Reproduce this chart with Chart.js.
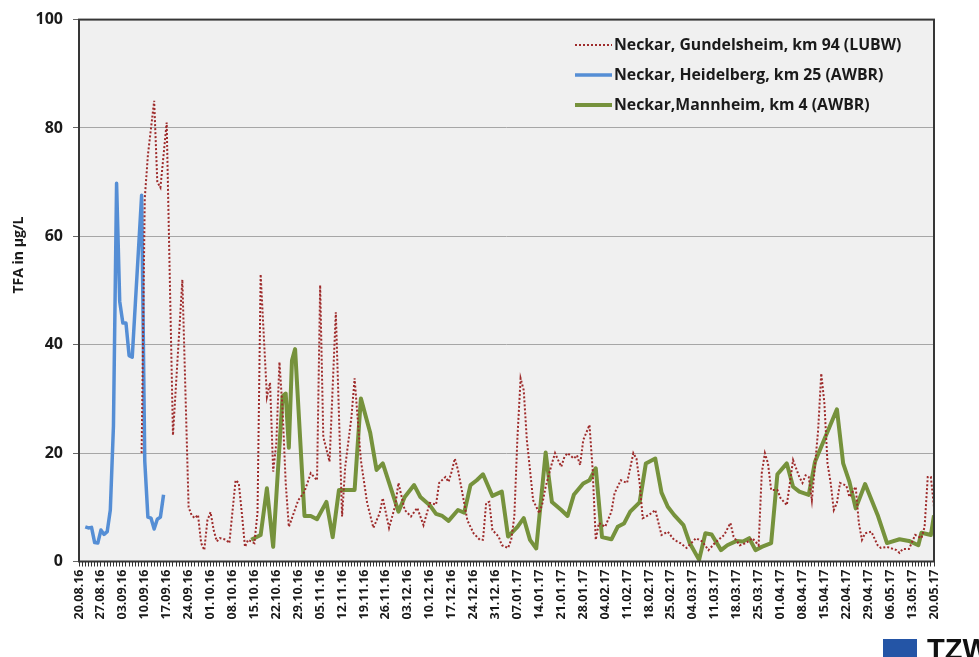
<!DOCTYPE html>
<html>
<head>
<meta charset="utf-8">
<script src="https://cdn.jsdelivr.net/npm/chart.js@4.4.1/dist/chart.umd.min.js"></script>
<style>
  html, body { margin: 0; padding: 0; background: #fff; }
</style>
</head>
<body>
<canvas id="tfaChart" width="979" height="657"></canvas>
<script>
// x = days since 20.08.16, one tick label per week
const weekLabels = ['20.08.16', '27.08.16', '03.09.16', '10.09.16', '17.09.16', '24.09.16', '01.10.16', '08.10.16',
    '15.10.16', '22.10.16', '29.10.16', '05.11.16', '12.11.16', '19.11.16', '26.11.16', '03.12.16', '10.12.16',
    '17.12.16', '24.12.16', '31.12.16', '07.01.17', '14.01.17', '21.01.17', '28.01.17', '04.02.17', '11.02.17',
    '18.02.17', '25.02.17', '04.03.17', '11.03.17', '18.03.17', '25.03.17', '01.04.17', '08.04.17', '15.04.17',
    '22.04.17', '29.04.17', '06.05.17', '13.05.17', '20.05.17'];
const yTicks = [0, 20, 40, 60, 80, 100];

const seriesNames = ['Neckar, Gundelsheim, km 94 (LUBW)', 'Neckar, Heidelberg, km 25 (AWBR)', 'Neckar,Mannheim, km 4 (AWBR)'];

const gundelsheimDays = [20, 21, 22, 24, 25, 26, 27, 28, 30, 33, 35, 36, 37, 38, 39, 40, 41, 42, 43, 44, 45, 47, 48, 50,
    51, 52, 53, 54, 56, 57, 58, 60, 61, 62, 63, 64, 65, 66, 67, 68, 70, 72, 74, 76, 77, 78, 80, 82, 84, 85, 87, 88, 90,
    92, 94, 96, 97, 99, 101, 102, 104, 106, 108, 110, 112, 114, 115, 117, 118, 119, 120, 121, 123, 124, 126, 128, 129,
    130, 131, 132, 134, 135, 137, 138, 139, 140, 141, 142, 143, 144, 145, 147, 148, 149, 151, 152, 153, 154, 155, 156,
    158, 159, 160, 161, 163, 164, 165, 166, 168, 170, 171, 173, 175, 177, 178, 179, 180, 182, 184, 186, 188, 190, 192,
    194, 197, 199, 201, 203, 206, 208, 209, 211, 213, 215, 217, 218, 219, 220, 221, 223, 224, 226, 228, 230, 231, 232,
    233, 234, 236, 237, 238, 239, 240, 241, 242, 243, 245, 246, 248, 249, 250, 251, 253, 255, 256, 258, 261, 262, 263,
    265, 267, 269, 270, 271, 272, 273];
const gundelsheimValues = [20, 67, 75, 85, 70, 69, 75, 81, 23.3, 52, 10, 8.5, 8, 8.6, 3.4, 2.1, 7.6, 9.1, 5.8, 3.7, 4.3,
    4, 3.4, 15, 14.5, 8.9, 2.7, 4, 3.4, 9, 53, 30.4, 33, 16.6, 21.8, 36.8, 28, 14.5, 6.4, 8, 11.3, 12.9, 16.3, 15, 51,
    23, 18.4, 46, 8.3, 17.5, 26.7, 33.8, 18.7, 10.8, 6.2, 8.9, 11.7, 6.2, 10.4, 14.5, 9.5, 8.3, 9.9, 6.7, 10.8, 10.5,
    14.5, 15.6, 14.7, 16.6, 19, 16.9, 10.8, 7.6, 5.2, 4, 4, 10.8, 11, 5.8, 4.6, 3, 2.5, 4, 8.3, 23, 33.8, 31.6, 22.4,
    16.9, 11.3, 8.9, 10.8, 13.8, 18.1, 20, 18.7, 17.5, 19.3, 20, 19, 19.6, 17.8, 22.4, 25.2, 17, 4, 7.1, 6.4, 9.2, 12.6,
    15, 14.5, 20, 19, 14.5, 8, 8.6, 9.5, 4.9, 5.5, 4, 3.4, 2.5, 4.3, 3.7, 2.1, 3.4, 4.9, 7.1, 4.6, 3, 3.4, 4.3, 3, 16.3,
    20, 18.1, 13.2, 13.2, 11.7, 10.4, 18.7, 15.6, 14.5, 15.9, 15.6, 11.3, 24.2, 34.7, 29.2, 18.1, 14.5, 9.5, 10.8, 14.5,
    14, 11.9, 13.8, 7.1, 4, 5.2, 5.5, 3, 2.5, 2.7, 2.1, 1.6, 2.3, 2.3, 4.9, 4.3, 6.4, 15.6, 15.6, 10];

const heidelbergDays = [2, 3, 4, 5, 6, 7, 8, 9, 10, 11, 12, 13, 14, 15, 16, 17, 18, 19, 20, 21, 22, 23, 24, 25, 26, 27];
const heidelbergValues = [6.4, 6.2, 6.3, 3.5, 3.4, 5.8, 5.0, 5.5, 9.5, 25, 69.8, 48, 44, 44, 38, 37.7, 47.7, 57.6,
    67.6, 18.5, 8.2, 8, 6, 7.8, 8.2, 12.3];

const mannheimDays = [55, 58, 60, 62, 65, 66, 67, 68, 69, 72, 74, 76, 79, 81, 83, 85, 88, 90, 93, 95, 97, 102, 104, 107,
    109, 112, 114, 116, 118, 121, 123, 125, 127, 129, 132, 135, 137, 140, 142, 144, 146, 149, 151, 154, 156, 158, 161,
    163, 165, 167, 170, 172, 174, 176, 179, 181, 184, 186, 188, 190, 193, 195, 198, 200, 202, 205, 207, 210, 212, 214,
    216, 218, 221, 223, 226, 228, 230, 233, 235, 242, 244, 246, 248, 251, 255, 258, 262, 265, 268, 269, 272, 273];
const mannheimValues = [4, 4.9, 13.5, 2.7, 30.5, 31, 21, 37.1, 39.2, 8.4, 8.4, 7.8, 11, 4.5, 13.2, 13.2, 13.2, 30.1,
    23.7, 16.9, 18.1, 9.2, 11.9, 14.1, 11.9, 10.4, 8.8, 8.4, 7.5, 9.5, 9, 14.1, 15, 16.1, 12.1, 12.9, 4.6, 6.4, 8, 4,
    2.4, 20.1, 11, 9.5, 8.4, 12.3, 14.4, 15, 17.2, 4.5, 4.1, 6.4, 7, 9.2, 10.9, 18.1, 19, 12.7, 10.1, 8.6, 6.7, 3.4,
    0.3, 5.2, 5, 2.1, 3, 3.8, 3.7, 4.3, 2.1, 2.7, 3.4, 16.1, 18.1, 13.8, 12.9, 12.3, 18.4, 28.1, 18.1, 14.7, 9.8, 14.3,
    8.6, 3.4, 4.1, 3.8, 3, 5.3, 4.9, 8.5];

function toPoints(days, values) {
    return days.map((d, i) => ({ x: d, y: values[i] }));
}

const FONT = 'Open Sans';

// plot area background + frame, y title, legend inside plot, logo
const decorations = {
    id: 'decorations',
    beforeDraw(chart) {
        const { ctx, chartArea: a } = chart;
        ctx.save();
        ctx.fillStyle = '#f0f0f0';
        ctx.fillRect(a.left, a.top, a.right - a.left, a.bottom - a.top);
        ctx.restore();
    },
    afterDraw(chart) {
        const { ctx, chartArea: a } = chart;
        ctx.save();
        ctx.strokeStyle = '#363636';
        ctx.lineWidth = 2;
        ctx.strokeRect(a.left, a.top, a.right - a.left, a.bottom - a.top);

        // y title
        ctx.save();
        ctx.translate(19, 255);
        ctx.rotate(-Math.PI / 2);
        ctx.fillStyle = '#1a1a1a';
        ctx.font = 'bold 14px "' + FONT + '"';
        ctx.textAlign = 'center';
        ctx.textBaseline = 'middle';
        ctx.fillText('TFA in µg/L', 0, 0);
        ctx.restore();

        // legend
        ctx.font = 'bold 15.8px "' + FONT + '"';
        ctx.textBaseline = 'middle';
        chart.data.datasets.forEach((ds, i) => {
            const y = 45 + i * 30;
            ctx.save();
            ctx.strokeStyle = ds.borderColor;
            ctx.lineWidth = ds.borderWidth;
            ctx.setLineDash(ds.borderDash || []);
            ctx.beginPath();
            ctx.moveTo(575, y);
            ctx.lineTo(612, y);
            ctx.stroke();
            ctx.restore();
            ctx.fillStyle = '#1a1a1a';
            ctx.fillText(ds.label, 614, y);
        });

        // TZW mark
        ctx.fillStyle = '#2455a6';
        ctx.fillRect(883, 639, 34, 18);
        ctx.fillStyle = '#111';
        ctx.font = 'bold 29px "Liberation Sans"';
        ctx.textBaseline = 'alphabetic';
        ctx.fillText('TZW', 927, 659);
        ctx.restore();
    }
};

new Chart(document.getElementById('tfaChart'), {
    type: 'line',
    data: {
        datasets: [{
            label: seriesNames[0],
            data: toPoints(gundelsheimDays, gundelsheimValues),
            borderColor: '#9e2b2b',
            borderWidth: 2,
            borderDash: [2, 2]
        }, {
            label: seriesNames[1],
            data: toPoints(heidelbergDays, heidelbergValues),
            borderColor: '#558ed5',
            borderWidth: 3.5,
            borderJoinStyle: 'round'
        }, {
            label: seriesNames[2],
            data: toPoints(mannheimDays, mannheimValues),
            borderColor: '#76923c',
            borderWidth: 4,
            borderJoinStyle: 'round'
        }]
    },
    options: {
        responsive: false,
        animation: false,
        layout: {
            padding: { top: 19, right: 45, left: 0, bottom: 0 }
        },
        elements: {
            point: { radius: 0 },
            line: { tension: 0 }
        },
        plugins: {
            legend: { display: false },
            tooltip: { enabled: false }
        },
        scales: {
            x: {
                type: 'linear',
                min: 0,
                max: 273,
                afterFit: (scale) => { scale.height = 95.5; },
                border: { display: false },
                grid: {
                    drawOnChartArea: false,
                    tickLength: 5,
                    tickColor: '#333'
                },
                ticks: {
                    stepSize: 1,
                    autoSkip: false,
                    minRotation: 90,
                    maxRotation: 90,
                    padding: 3,
                    color: '#1a1a1a',
                    font: { family: FONT, weight: 'bold', size: 12.5 },
                    callback: (v) => (v % 7 === 0 ? weekLabels[v / 7] : '')
                }
            },
            y: {
                min: yTicks[0],
                max: yTicks[yTicks.length - 1],
                afterFit: (scale) => { scale.width = 79; },
                border: { display: false },
                grid: {
                    color: (c) => (c.tick.value === 0 || c.tick.value === 100 ? 'rgba(0,0,0,0)' : '#a6a6a6'),
                    tickColor: '#666',
                    tickLength: 6
                },
                ticks: {
                    stepSize: 20,
                    padding: 10,
                    color: '#1a1a1a',
                    font: { family: FONT, weight: 'bold', size: 16 }
                }
            }
        }
    },
    plugins: [decorations]
});
</script>
</body>
</html>
